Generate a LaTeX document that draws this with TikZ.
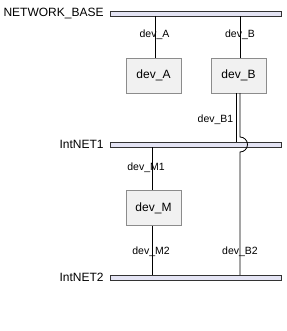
\documentclass[tikz,border=0pt]{standalone}
\usepackage{fontspec}
\setmainfont{Liberation Sans}
\usepackage{tikz}
\usetikzlibrary{positioning,calc}
\definecolor{netfill}{RGB}{228,228,244}
\definecolor{devfill}{RGB}{241,241,241}
\definecolor{devline}{RGB}{140,140,140}

\begin{document}
\begin{tikzpicture}[x=1pt, y=-1pt,
  net/.style={draw=black!80, fill=netfill, minimum width=171pt,
    minimum height=5pt, inner sep=0pt},
  netlabel/.style={font=\fontsize{12}{14}\selectfont, inner sep=0pt},
  device/.style={draw=devline, fill=devfill, minimum width=55pt,
    minimum height=35pt, font=\fontsize{12}{14}\selectfont},
  link/.style={black, line width=0.8pt},
  lbl/.style={font=\fontsize{10.5}{12}\selectfont, inner sep=0pt}
]
  \useasboundingbox (0,0) rectangle (286,331);

  % Networks
  \node[net] (base) at (195.5,13.5) {};
  \node[net] (net1) at (195.5,144.5) {};
  \node[net] (net2) at (195.5,277.5) {};
  \node[netlabel, left=6pt of base] (baselabel) {NETWORK\_BASE};
  \node[netlabel, left=6pt of net1] (net1label) {IntNET1};
  \node[netlabel, left=6pt of net2] (net2label) {IntNET2};

  % Devices
  \node[device] (devA) at (153.5,75.5) {dev\_A};
  \node[device] (devB) at (238.5,75.5) {dev\_B};
  \node[device] (devM) at (153.5,208) {dev\_M};

  % Links
  \coordinate (aTop) at ([xshift=2pt]devA.north);
  \coordinate (bTop) at ([xshift=2pt]devB.north);
  \coordinate (bOne) at ([xshift=-2.5pt]devB.south);
  \coordinate (bTwo) at ([xshift=1.5pt]devB.south);
  \coordinate (mTop) at ([xshift=-1.5pt]devM.north);
  \coordinate (mBot) at ([xshift=-1.5pt]devM.south);
  \draw[link] (aTop |- base.south) -- (aTop);
  \draw[link] (bTop |- base.south) -- (bTop);
  \draw[link] (bOne) -- (bOne |- net1.north);
  \draw[link] (bTwo) -- ($(bTwo |- net1.center)+(0,-7.5)$)
    arc[start angle=90, end angle=-90, radius=7.5pt]
    -- (bTwo |- net2.north);
  \draw[link] (mTop |- net1.south) -- (mTop);
  \draw[link] (mBot) -- (mBot |- net2.north);

  % Labels
  \node[lbl] (lblA) at (154.5,35) {dev\_A};
  \node[lbl] (lblB) at (240,35) {dev\_B};
  \node[lbl, anchor=east] (lblB1) at (233.5,120) {dev\_B1};
  \node[lbl] (lblM1) at (146,168) {dev\_M1};
  \node[lbl] (lblM2) at (151,252) {dev\_M2};
  \node[lbl] (lblB2) at (240,252) {dev\_B2};
\end{tikzpicture}
\end{document}
